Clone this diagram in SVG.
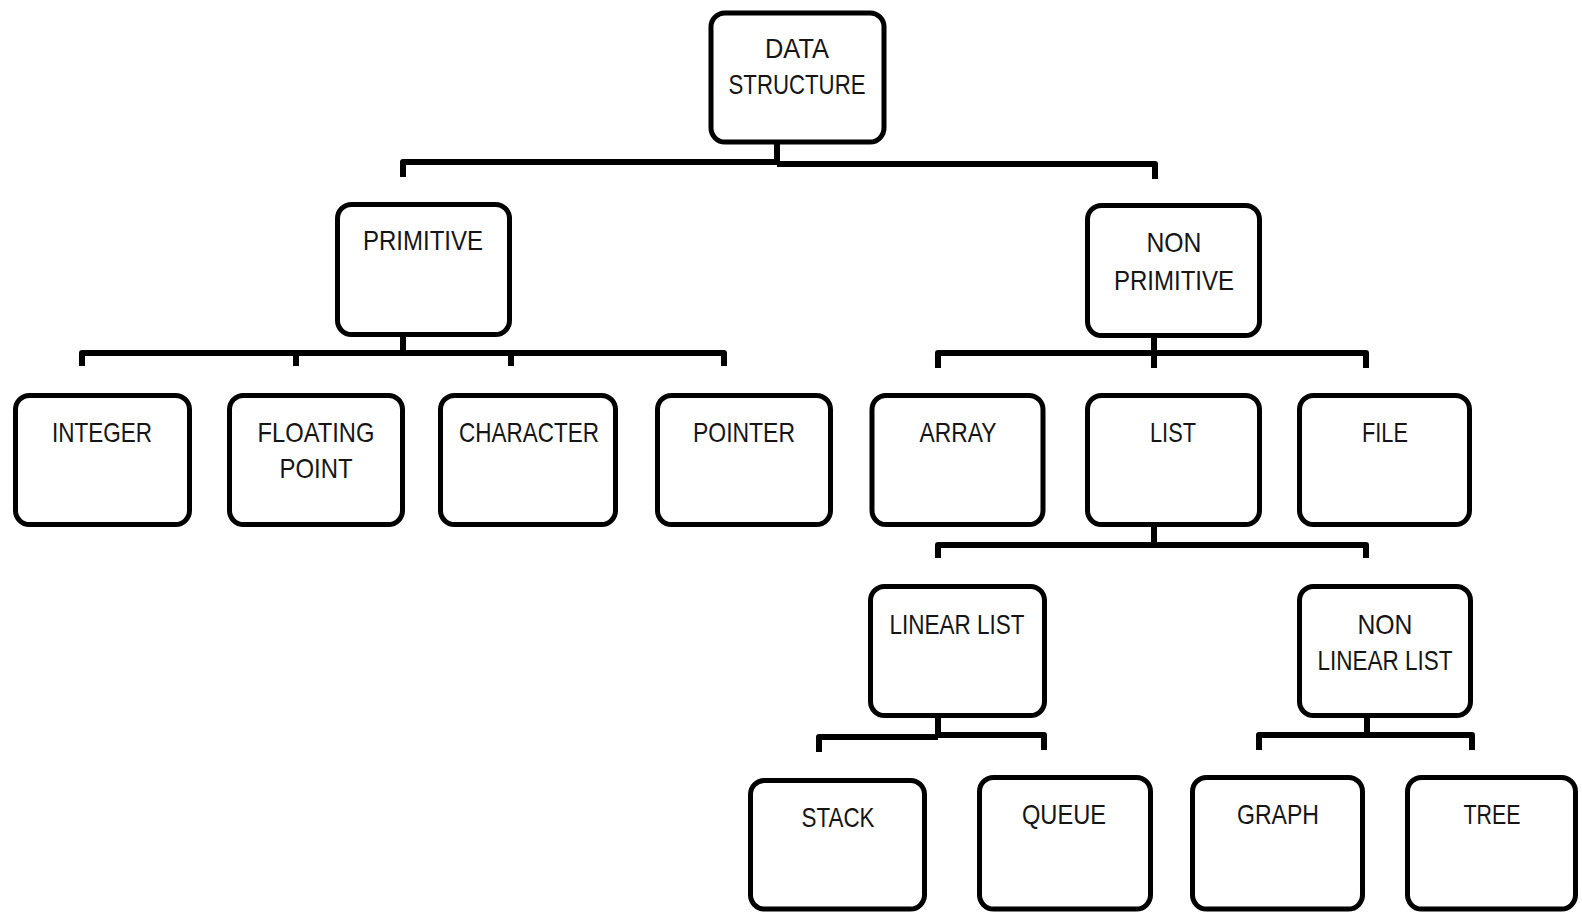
<svg xmlns="http://www.w3.org/2000/svg" width="1582" height="912" viewBox="0 0 1582 912">
<style>
.box{fill:#fff;stroke:#000;stroke-width:5}
.lbl{font-family:"Liberation Sans",Arial,sans-serif;font-size:27.5px;fill:#151515;text-anchor:middle}
.con{fill:none;stroke:#000;stroke-width:6;stroke-linejoin:round}
.stub{stroke:#d4d4d4;stroke-width:5}
</style>
<rect width="1582" height="912" fill="#fff"/>
<g id="connectors">
<path class="stub" d="M777,124V140M403,316V332M1154,318V335M1154,508V525M938,698V715M1367,698V715"/>
<path class="con" d="M777,142V164M403,177V162H777M777,164H1155V179"/>
<path class="con" d="M403,334V353M82,366V353H724V366M296,353V366M511,353V366"/>
<path class="con" d="M1154,337V368M938,368V353H1366V368"/>
<path class="con" d="M1154,527V545M938,558V545H1366V558"/>
<path class="con" d="M938,717V737M819,752V737H938M938,735H1044V750"/>
<path class="con" d="M1367,717V735M1259,750V735H1472V750"/>
</g>
<g id="n-data-structure"><rect class="box" x="711" y="13" width="173" height="129" rx="14"/><text class="lbl" x="797" y="58" textLength="64" lengthAdjust="spacingAndGlyphs">DATA</text><text class="lbl" x="797" y="94" textLength="137" lengthAdjust="spacingAndGlyphs">STRUCTURE</text></g>
<g id="n-primitive"><rect class="box" x="337.5" y="204.5" width="172" height="130" rx="14"/><text class="lbl" x="423" y="250" textLength="120" lengthAdjust="spacingAndGlyphs">PRIMITIVE</text></g>
<g id="n-non-primitive"><rect class="box" x="1087.5" y="205.5" width="172" height="130" rx="14"/><text class="lbl" x="1174" y="252" textLength="55" lengthAdjust="spacingAndGlyphs">NON</text><text class="lbl" x="1174" y="290" textLength="120" lengthAdjust="spacingAndGlyphs">PRIMITIVE</text></g>
<g id="n-integer"><rect class="box" x="15.5" y="395.5" width="174" height="129" rx="14"/><text class="lbl" x="102" y="442" textLength="100" lengthAdjust="spacingAndGlyphs">INTEGER</text></g>
<g id="n-floating-point"><rect class="box" x="229.5" y="395.5" width="173" height="129" rx="14"/><text class="lbl" x="316" y="442" textLength="117" lengthAdjust="spacingAndGlyphs">FLOATING</text><text class="lbl" x="316" y="478" textLength="73" lengthAdjust="spacingAndGlyphs">POINT</text></g>
<g id="n-character"><rect class="box" x="440.5" y="395.5" width="175" height="129" rx="14"/><text class="lbl" x="529" y="442" textLength="140" lengthAdjust="spacingAndGlyphs">CHARACTER</text></g>
<g id="n-pointer"><rect class="box" x="657.5" y="395.5" width="173" height="129" rx="14"/><text class="lbl" x="744" y="442" textLength="102" lengthAdjust="spacingAndGlyphs">POINTER</text></g>
<g id="n-array"><rect class="box" x="872" y="395.5" width="171" height="129" rx="14"/><text class="lbl" x="958" y="442" textLength="77" lengthAdjust="spacingAndGlyphs">ARRAY</text></g>
<g id="n-list"><rect class="box" x="1087.5" y="395.5" width="172" height="129" rx="14"/><text class="lbl" x="1173" y="442" textLength="46" lengthAdjust="spacingAndGlyphs">LIST</text></g>
<g id="n-file"><rect class="box" x="1299.5" y="395.5" width="170" height="129" rx="14"/><text class="lbl" x="1385" y="442" textLength="46" lengthAdjust="spacingAndGlyphs">FILE</text></g>
<g id="n-linear-list"><rect class="box" x="870.5" y="586.5" width="174" height="129" rx="14"/><text class="lbl" x="957" y="634" textLength="135" lengthAdjust="spacingAndGlyphs">LINEAR LIST</text></g>
<g id="n-non-linear-list"><rect class="box" x="1299.5" y="586.5" width="171" height="129" rx="14"/><text class="lbl" x="1385" y="634" textLength="55" lengthAdjust="spacingAndGlyphs">NON</text><text class="lbl" x="1385" y="670" textLength="135" lengthAdjust="spacingAndGlyphs">LINEAR LIST</text></g>
<g id="n-stack"><rect class="box" x="750.5" y="780.5" width="174" height="128.5" rx="14"/><text class="lbl" x="838" y="827" textLength="73" lengthAdjust="spacingAndGlyphs">STACK</text></g>
<g id="n-queue"><rect class="box" x="979.5" y="777.5" width="171" height="131.5" rx="14"/><text class="lbl" x="1064" y="824" textLength="84" lengthAdjust="spacingAndGlyphs">QUEUE</text></g>
<g id="n-graph"><rect class="box" x="1192.5" y="777.5" width="170" height="131.5" rx="14"/><text class="lbl" x="1278" y="824" textLength="82" lengthAdjust="spacingAndGlyphs">GRAPH</text></g>
<g id="n-tree"><rect class="box" x="1407.5" y="777.5" width="168" height="131.5" rx="14"/><text class="lbl" x="1492" y="824" textLength="57" lengthAdjust="spacingAndGlyphs">TREE</text></g>
</svg>
